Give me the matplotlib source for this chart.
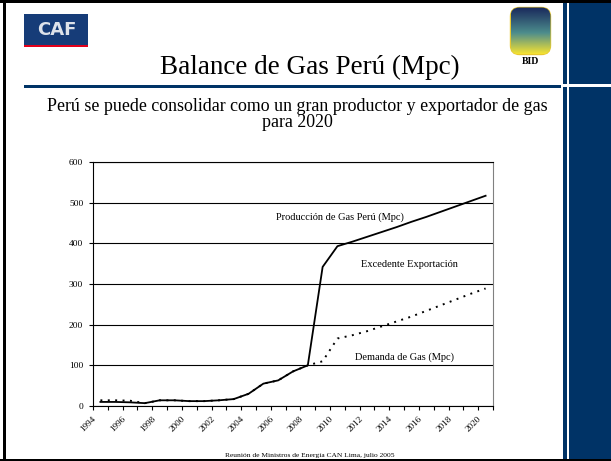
import numpy as np
import matplotlib.pyplot as plt
from matplotlib import transforms
from matplotlib.patches import Rectangle, FancyBboxPatch

# datos
anios = list(range(1994, 2021))
produccion = [10, 10, 9, 7, 14, 14, 12, 12, 14, 17, 30, 55, 63, 85, 100,
              342, 393, 404, 416, 428, 440, 453, 465, 478, 491, 504, 517]
demanda = [14, 14, 13, 7, 14, 14, 12, 12, 14, 17, 30, 55, 63, 85, 100,
           110, 166, 174, 184, 196, 208, 220, 234, 248, 262, 276, 289]
etiquetas_x = [str(a) if a % 2 == 0 else '' for a in anios]
ticks_y = [0, 100, 200, 300, 400, 500, 600]

titulo = 'Balance de Gas Perú (Mpc)'
subtitulo = ['Perú se puede consolidar como un gran productor y exportador de gas',
             'para 2020']
pie = 'Reunión de Ministros de Energía CAN Lima, julio 2005'

NAVY = '#003366'
SERIF = 'Liberation Serif'

fig = plt.figure(figsize=(6.11, 4.61), dpi=100)

# fondo de la diapositiva en coordenadas de pixel
bg = fig.add_axes([0, 0, 1, 1], zorder=0)
bg.set_xlim(0, 611)
bg.set_ylim(461, 0)
bg.axis('off')

# marco negro
bg.add_patch(Rectangle((0, 0), 611, 3, color='black', lw=0))
bg.add_patch(Rectangle((3.3, 0), 2.7, 461, color='black', lw=0))
bg.add_patch(Rectangle((0, 458.8), 611, 2.2, color='black', lw=0))

# panel azul derecho
bg.add_patch(Rectangle((563.3, 3), 3.4, 456, color=NAVY, lw=0))
bg.add_patch(Rectangle((569.3, 3), 42, 456, color=NAVY, lw=0))
bg.add_patch(Rectangle((563, 84.5), 48, 3, color='white', lw=0))
# linea bajo el titulo
bg.add_patch(Rectangle((24, 85), 537, 3, color=NAVY, lw=0))

# logo CAF
bg.add_patch(Rectangle((24, 14), 64, 31, color='#163c78', lw=0))
bg.add_patch(Rectangle((24, 45), 64, 2.5, color='#e3001b', lw=0))
bg.text(57, 30, 'CAF', ha='center', va='center', fontsize=13,
        fontweight='bold', color='#dde2ea', family='DejaVu Sans')

# logo BID (escudo aproximado)
escudo = FancyBboxPatch((510.5, 7.5), 40, 47, boxstyle='round,pad=0,rounding_size=9',
                        fc='none', ec='#e8c830', lw=1.0)
bg.add_patch(escudo)
grad = np.zeros((48, 41, 3))
top = np.array([0.10, 0.16, 0.36])
mid = np.array([0.30, 0.55, 0.55])
bot = np.array([0.95, 0.88, 0.20])
for i in range(48):
    t = i / 47
    grad[i] = top + (mid - top) * (t / 0.55) if t < 0.55 else mid + (bot - mid) * ((t - 0.55) / 0.45)
img = bg.imshow(grad, extent=[510.5, 550.5, 54.5, 7.5], aspect='auto', zorder=1)
img.set_clip_path(escudo)
bg.text(531, 62, 'BID', ha='center', va='center', fontsize=7,
        fontweight='bold', family=SERIF)

# textos
bg.text(310, 74, titulo, ha='center', va='baseline', fontsize=19.5, family=SERIF)
bg.text(297, 111, subtitulo[0], ha='center', va='baseline', fontsize=12.9, family=SERIF)
bg.text(297, 127, subtitulo[1], ha='center', va='baseline', fontsize=12.9, family=SERIF)
bg.text(310, 457, pie, ha='center', va='baseline', fontsize=5.4, family=SERIF)

# grafico
ax = fig.add_axes([93 / 611, 1 - 406 / 461, 400 / 611, 244 / 461], zorder=2)
ax.patch.set_alpha(0)
x = np.arange(len(anios))
ax.plot(x, demanda, color='black', lw=1.4, ls=(0, (1, 2.8)))
ax.plot(x, produccion, color='black', lw=1.3)

ax.set_xlim(-0.5, len(anios) - 0.5)
ax.set_ylim(0, 600)
ax.set_yticks(ticks_y)
ax.set_yticklabels([str(v) for v in ticks_y], fontsize=6.8, family=SERIF)
ax.yaxis.grid(True, color='black', lw=0.8)
ax.set_axisbelow(True)

ax.set_xticks(np.arange(-0.5, len(anios)))
ax.set_xticks(x, minor=True)
ax.set_xticklabels(etiquetas_x, minor=True, rotation=45, ha='right', va='top',
                   rotation_mode='anchor', fontsize=6.6, family=SERIF)
ax.tick_params(axis='x', which='major', direction='out', length=3, width=0.8,
               labelbottom=False)
ax.tick_params(axis='x', which='minor', length=0, pad=6.5)
ax.tick_params(axis='y', direction='out', length=3, width=0.8, pad=4)
desplaza = transforms.ScaledTranslation(-5.8 / 72, 0, fig.dpi_scale_trans)
for lbl in ax.get_xticklabels(minor=True):
    lbl.set_transform(lbl.get_transform() + desplaza)

for lado in ['left', 'bottom', 'top']:
    ax.spines[lado].set_color('black')
    ax.spines[lado].set_linewidth(0.8)
ax.spines['right'].set_color('#808080')
ax.spines['right'].set_linewidth(0.8)

ax.text(0.6175, 0.775, 'Producción de Gas Perú (Mpc)', transform=ax.transAxes,
        ha='center', va='center', fontsize=7.5, family=SERIF)
ax.text(0.79, 0.58, 'Excedente Exportación', transform=ax.transAxes,
        ha='center', va='center', fontsize=7.5, family=SERIF)
ax.text(0.7775, 0.20, 'Demanda de Gas (Mpc)', transform=ax.transAxes,
        ha='center', va='center', fontsize=7.5, family=SERIF)

fig.savefig('out.png', dpi=100)
